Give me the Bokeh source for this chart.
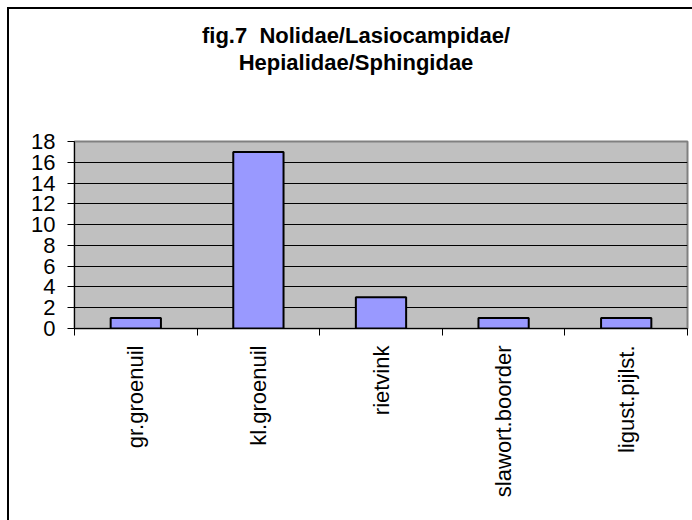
import math
from bokeh.plotting import figure
from bokeh.models import Range1d, FixedTicker, ColumnDataSource, Div
from bokeh.layouts import column
from bokeh.embed import file_html
from bokeh.resources import INLINE

# ---- data ----
categories = ["gr.groenuil", "kl.groenuil", "rietvink", "slawort.boorder", "ligust.pijlst."]
counts = [1, 17, 3, 1, 1]
y_ticks = [0, 2, 4, 6, 8, 10, 12, 14, 16, 18]
title_lines = ["fig.7&nbsp;&nbsp;Nolidae/Lasiocampidae/", "Hepialidae/Sphingidae"]

positions = [i + 0.5 for i in range(len(categories))]
boundaries = list(range(len(categories) + 1))

FONT = "Liberation Sans"

title_div = Div(
    text=('<div style="margin:13px 0 0 47px;width:600px;text-align:center;'
          'font-family:\'Liberation Sans\',Arial,sans-serif;font-weight:bold;'
          'font-size:22px;line-height:27px;color:#000;">'
          + "<br>".join(title_lines) + "</div>"),
    width=683, height=80, margin=0)

p = figure(width=683, height=431, output_backend="svg", toolbar_location=None,
           x_range=Range1d(0, len(categories)), y_range=Range1d(0, 18),
           min_border_left=65, min_border_top=52, min_border_right=5,
           min_border_bottom=192)
p.title.visible = False

p.background_fill_color = "#C0C0C0"
p.border_fill_color = "white"
p.outline_line_color = "#808080"
p.outline_line_width = 2

src = ColumnDataSource(dict(x=positions, top=counts))
p.vbar(x="x", top="top", width=0.41, source=src, fill_color="#9999FF",
       line_color="black", line_width=2)

# grid
p.xgrid.visible = False
p.ygrid.ticker = FixedTicker(ticks=y_ticks)
p.ygrid.grid_line_color = "black"
p.ygrid.grid_line_width = 1

# y axis
ya = p.yaxis[0]
ya.ticker = FixedTicker(ticks=y_ticks)
ya.axis_line_color = "black"
ya.axis_line_width = 1
ya.major_tick_out = 7
ya.major_tick_in = 0
ya.minor_tick_line_color = None
ya.major_label_standoff = 12
ya.major_label_text_font = FONT
ya.major_label_text_font_size = "22px"
ya.major_label_text_color = "black"

# x axis
xa = p.xaxis[0]
xa.ticker = FixedTicker(ticks=positions, minor_ticks=boundaries)
xa.major_label_overrides = {pos: c for pos, c in zip(positions, categories)}
xa.major_tick_line_color = None
xa.minor_tick_out = 7
xa.minor_tick_in = 0
xa.minor_tick_line_color = "black"
xa.axis_line_color = "black"
xa.axis_line_width = 1
xa.major_label_orientation = math.pi / 2
xa.major_label_standoff = 10
xa.major_label_text_font = FONT
xa.major_label_text_font_size = "22px"
xa.major_label_text_color = "black"

layout = column(title_div, p, spacing=0,
                styles={"margin-left": "7px", "margin-top": "7px",
                        "border-left": "2px solid #000000",
                        "border-top": "2px solid #000000"})

open("out.html", "w").write(file_html(layout, INLINE))
